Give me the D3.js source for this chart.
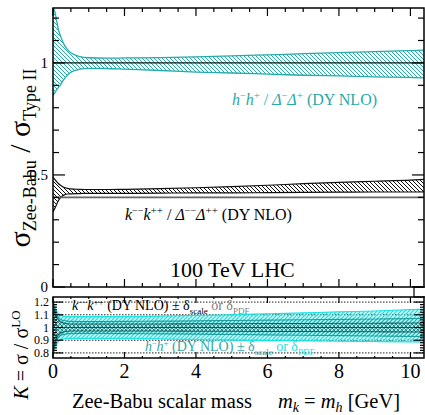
<!DOCTYPE html>
<html><head><meta charset="utf-8">
<script src="https://cdn.jsdelivr.net/npm/d3@7"></script>
<style>
body{margin:0;background:#fff}
svg{display:block}
</style>
</head><body>
<svg id="c" width="425" height="415"></svg>
<script>
// scalar mass grid [GeV]
const mass   = [0, 0.05, 0.1, 0.15, 0.2, 0.3, 0.4, 0.5, 0.75, 1, 1.5, 2, 3, 4, 5, 6, 7, 8, 9, 10, 10.4];
// sigma ratio bands (upper / lower edge)
const hRatioUp = [1.245,1.23,1.19,1.15,1.125,1.085,1.06,1.045,1.028,1.023,1.021,1.022,1.024,1.027,1.031,1.036,1.041,1.046,1.05,1.055,1.057];
const hRatioLo = [0.855,0.866,0.88,0.89,0.90,0.925,0.945,0.958,0.972,0.976,0.975,0.972,0.966,0.959,0.955,0.95,0.945,0.942,0.938,0.935,0.933];
const kRatioUp = [0.49,0.48,0.47,0.462,0.455,0.445,0.44,0.438,0.436,0.435,0.435,0.436,0.439,0.443,0.448,0.454,0.461,0.467,0.472,0.477,0.48];
const kRatioLo = [0.335,0.35,0.368,0.385,0.397,0.41,0.415,0.416,0.417,0.418,0.418,0.418,0.419,0.42,0.42,0.421,0.422,0.423,0.424,0.424,0.425];
// K-factor uncertainty bands
const hPdfUp   = [1.22,1.17,1.13,1.11,1.10,1.09,1.085,1.085,1.085,1.085,1.085,1.086,1.09,1.095,1.10,1.108,1.115,1.123,1.13,1.14,1.145];
const hPdfLo   = [0.78,0.83,0.87,0.89,0.90,0.91,0.915,0.915,0.915,0.915,0.915,0.914,0.91,0.905,0.90,0.897,0.895,0.892,0.89,0.887,0.885];
const hScaleUp = [1.20,1.14,1.10,1.08,1.065,1.055,1.05,1.048,1.047,1.047,1.047,1.048,1.05,1.052,1.055,1.058,1.061,1.064,1.067,1.07,1.072];
const hScaleLo = [0.80,0.86,0.90,0.92,0.935,0.945,0.95,0.952,0.953,0.953,0.953,0.952,0.95,0.948,0.945,0.942,0.939,0.936,0.933,0.93,0.928];
const kScaleUp = [1.18,1.12,1.08,1.06,1.045,1.035,1.03,1.028,1.027,1.027,1.027,1.027,1.028,1.029,1.03,1.031,1.032,1.033,1.034,1.035,1.036];
const kScaleLo = [0.82,0.88,0.92,0.94,0.955,0.965,0.97,0.972,0.973,0.973,0.973,0.973,0.972,0.971,0.97,0.969,0.968,0.967,0.966,0.965,0.964];
const kLoRef   = 0.4;   // reference line in upper panel
const xTicks   = [0, 2, 4, 6, 8, 10];
const yTopTicks = [0, 0.5, 1];
const yBotTicks = [0.8, 0.9, 1, 1.1, 1.2];

// pick the first installed Times-like serif face
const SERIF = (() => {
  const ctx = document.createElement("canvas").getContext("2d");
  const probe = "Zee-Babu scalar mass 0123456789";
  const w = f => { ctx.font = "40px " + f; return ctx.measureText(probe).width; };
  const mono = w("monospace"), sans = w("sans-serif");
  const list = ["Liberation Serif", "Times New Roman", "Tinos", "Times", "Nimbus Roman", "DejaVu Serif", "Noto Serif"];
  for (const f of list) {
    const a = w(`"${f}", monospace`), b = w(`"${f}", sans-serif`);
    if (a !== mono || b !== sans) return `"${f}", serif`;
  }
  return "serif";
})();

const svg = d3.select("#c").attr("font-family", SERIF);
const L = 53, R = 424;
const x = d3.scaleLinear().domain([0, 10.38]).range([L, R]);
const yT = d3.scaleLinear().domain([0, 1.245]).range([287, 8]);
const yB = d3.scaleLinear().domain([0.76, 1.24]).range([358, 297]);

const CYAN = "#2aa9a9", BRIGHT = "#19e3e3";

// hatch patterns
const defs = svg.append("defs");
function hatch(id, color, dir, sw, gap) {
  const p = defs.append("pattern").attr("id", id).attr("patternUnits", "userSpaceOnUse")
    .attr("width", gap).attr("height", gap);
  const g = gap;
  const d = dir === "\\"
    ? `M0,0L${g},${g}M${-g/2},${g/2}L${g/2},${g*1.5}M${g/2},${-g/2}L${g*1.5},${g/2}`
    : `M0,${g}L${g},0M${-g/2},${g/2}L${g/2},${-g/2}M${g/2},${g*1.5}L${g*1.5},${g/2}`;
  p.append("path").attr("d", d).attr("stroke", color).attr("stroke-width", sw).attr("fill", "none");
}
hatch("hCy", CYAN, "\\", 1, 4);
hatch("hBk", "#111", "\\", 1, 4);
hatch("hBr", BRIGHT, "/", 1.4, 4);
hatch("hTe", "#25b5b5", "/", 1.2, 4);
hatch("hDk", "#2a6a6a", "\\", 0.9, 4);

const idx = d3.range(mass.length);
function band(g, ys, up, lo, fill, stroke, sw) {
  const area = d3.area().x(i => x(mass[i])).y0(i => ys(lo[i])).y1(i => ys(up[i])).curve(d3.curveMonotoneX);
  const line = arr => d3.line().x(i => x(mass[i])).y(i => ys(arr[i])).curve(d3.curveMonotoneX);
  g.append("path").attr("d", area(idx)).attr("fill", fill);
  g.append("path").attr("d", line(up)(idx)).attr("fill", "none").attr("stroke", stroke).attr("stroke-width", sw);
  g.append("path").attr("d", line(lo)(idx)).attr("fill", "none").attr("stroke", stroke).attr("stroke-width", sw);
}

// ---------- upper panel ----------
svg.append("clipPath").attr("id", "clipT").append("rect").attr("x", L).attr("y", 8).attr("width", R - L).attr("height", 279);
const gT = svg.append("g").attr("clip-path", "url(#clipT)");
band(gT, yT, hRatioUp, hRatioLo, "url(#hCy)", CYAN, 1.3);
gT.append("line").attr("x1", L).attr("x2", R).attr("y1", yT(1)).attr("y2", yT(1)).attr("stroke", "#111").attr("stroke-width", 1.3);
band(gT, yT, kRatioUp, kRatioLo, "url(#hBk)", "#111", 1.2);
gT.append("line").attr("x1", L).attr("x2", R).attr("y1", yT(kLoRef)).attr("y2", yT(kLoRef)).attr("stroke", "#666").attr("stroke-width", 1.8);

// ---------- lower panel ----------
svg.append("clipPath").attr("id", "clipB").append("rect").attr("x", L).attr("y", 297).attr("width", R - L).attr("height", 61);
const gB = svg.append("g").attr("clip-path", "url(#clipB)");
// dotted guide lines
yBotTicks.forEach(v => {
  gB.append("line").attr("x1", L).attr("x2", R).attr("y1", yB(v)).attr("y2", yB(v))
    .attr("stroke", "#222").attr("stroke-width", 1).attr("stroke-dasharray", "1.5,1.5");
});
band(gB, yB, hPdfUp, hPdfLo, "url(#hBr)", BRIGHT, 1.2);
band(gB, yB, hScaleUp, hScaleLo, "url(#hTe)", "#1f9c9c", 1.2);
band(gB, yB, kScaleUp, kScaleLo, "url(#hDk)", "#1a5a5a", 1.1);
gB.append("line").attr("x1", L).attr("x2", R).attr("y1", yB(1)).attr("y2", yB(1)).attr("stroke", "#1a5050").attr("stroke-width", 1.2);

// ---------- frames and ticks ----------
function frame(ys, top, bot, yMajor, yMinor, majLen, minLen) {
  svg.append("rect").attr("x", L).attr("y", top).attr("width", R - L).attr("height", bot - top)
    .attr("fill", "none").attr("stroke", "#000").attr("stroke-width", 1.5);
  const g = svg.append("g").attr("stroke", "#000").attr("stroke-width", 1.2);
  d3.range(0, 10.4, 0.5).forEach(v => {
    const major = Math.abs(v % 2) < 1e-6;
    const len = major ? majLen : minLen;
    g.append("line").attr("x1", x(v)).attr("x2", x(v)).attr("y1", top).attr("y2", top + len);
    g.append("line").attr("x1", x(v)).attr("x2", x(v)).attr("y1", bot).attr("y2", bot - len);
  });
  yMinor.forEach(v => {
    const major = yMajor.some(m => Math.abs(m - v) < 1e-6);
    const len = major ? majLen + 4 : minLen + 2;
    g.append("line").attr("x1", L).attr("x2", L + len).attr("y1", ys(v)).attr("y2", ys(v));
    g.append("line").attr("x1", R).attr("x2", R - len).attr("y1", ys(v)).attr("y2", ys(v));
  });
}
frame(yT, 8, 287, yTopTicks, d3.range(0, 1.25, 0.1).map(v => +v.toFixed(2)), 8, 4);
frame(yB, 297, 358, yBotTicks, d3.range(0.8, 1.21, 0.02).map(v => +v.toFixed(2)), 6, 2);

// small box at panel junction
svg.append("rect").attr("x", 414).attr("y", 287).attr("width", 12).attr("height", 10)
  .attr("fill", "none").attr("stroke", "#000").attr("stroke-width", 1.2);

function txt(px, py, size) {
  return svg.append("text").attr("x", px).attr("y", py).attr("font-size", size).attr("font-family", SERIF);
}
// rich text: segments carry a baseline offset; relative dy keeps one text chunk
function rich(t, segs) {
  let cur = 0;
  segs.forEach(s => {
    const off = s.dy || 0;
    const ts = t.append("tspan").text(s.t);
    if (off !== cur) ts.attr("dy", off - cur);
    cur = off;
    if (s.size) ts.attr("font-size", s.size);
    if (s.it) ts.attr("font-style", "italic");
    if (s.fill) ts.attr("fill", s.fill);
    if (s.dx) ts.attr("dx", s.dx);
  });
  return t;
}

// tick labels
yTopTicks.forEach(v => {
  txt(L - 5, yT(v) + 5, 15).attr("text-anchor", "end").text(v === 0.5 ? "0.5" : String(v));
});
yBotTicks.forEach(v => {
  txt(L - 4, yB(v) + 4, 12).attr("text-anchor", "end").text(v === 1 ? "1" : v.toFixed(1));
});
xTicks.forEach(v => {
  txt(x(v), 378, 20).attr("text-anchor", "middle").text(v);
});

// axis titles
rich(txt(72, 408, 20.5), [
  { t: "Zee-Babu scalar mass" },
  { t: "m", it: true, dx: 26 },
  { t: "k", it: true, size: 14, dy: 4 },
  { t: " = " },
  { t: "m", it: true },
  { t: "h", it: true, size: 14, dy: 4 },
  { t: " [GeV]" }
]);

rich(svg.append("text").attr("transform", "translate(30,158) rotate(-90)").attr("text-anchor", "middle")
  .attr("font-size", 30).attr("font-family", SERIF), [
  { t: "σ" }, { t: "Zee-Babu", size: 18, dy: 6 }, { t: " / " }, { t: "σ" }, { t: "Type II", size: 18, dy: 6 }
]);

rich(svg.append("text").attr("transform", "translate(28,355) rotate(-90)").attr("text-anchor", "middle")
  .attr("font-size", 20).attr("font-family", SERIF), [
  { t: "K", it: true }, { t: " = σ / σ" }, { t: "LO", size: 13, dy: -8 }
]);

// series labels
rich(txt(232, 105, 16).attr("fill", CYAN), [
  { t: "h", it: true }, { t: "−", size: 10, dy: -6 }, { t: "h", it: true }, { t: "+", size: 11, dy: -6 },
  { t: " /  " },
  { t: "Δ", it: true }, { t: "−", size: 10, dy: -6 }, { t: "Δ", it: true }, { t: "+", size: 11, dy: -6 },
  { t: " (DY NLO)" }
]);

rich(txt(125, 220, 16).attr("fill", "#000"), [
  { t: "k", it: true }, { t: "−−", size: 10, dy: -6 }, { t: "k", it: true }, { t: "++", size: 11, dy: -6 },
  { t: " /  " },
  { t: "Δ", it: true }, { t: "−−", size: 10, dy: -6 }, { t: "Δ", it: true }, { t: "++", size: 11, dy: -6 },
  { t: " (DY NLO)" }
]);

txt(170, 277, 22).text("100 TeV LHC");

rich(txt(72, 310, 14).attr("fill", "#000"), [
  { t: "k", it: true }, { t: "−−", size: 8, dy: -5 }, { t: "k", it: true }, { t: "++", size: 9, dy: -5 },
  { t: " (DY NLO) ± δ" }, { t: "scale", size: 9, dy: 4 },
  { t: " or δ", fill: "#808080" }, { t: "PDF", size: 9, dy: 4, fill: "#808080" }
]);

rich(txt(145, 351, 14).attr("fill", CYAN), [
  { t: "h", it: true }, { t: "−", size: 8, dy: -5 }, { t: "h", it: true }, { t: "+", size: 9, dy: -5 },
  { t: " (DY NLO) ± δ" }, { t: "scale", size: 9, dy: 4 },
  { t: " or δ", fill: BRIGHT }, { t: "PDF", size: 9, dy: 4, fill: BRIGHT }
]);
</script>
</body></html>
